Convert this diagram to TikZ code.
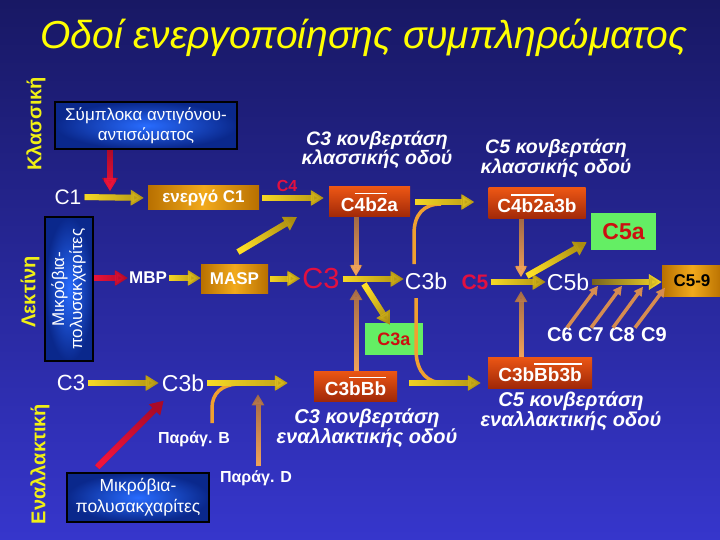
\documentclass[tikz,border=0pt]{standalone}
\usepackage{fontspec}
\usepackage{graphicx}
\setmainfont{Liberation Sans}
\usetikzlibrary{arrows.meta,calc,fadings}
\definecolor{bgtop}{RGB}{24,24,100}
\definecolor{bgbot}{RGB}{54,54,204}
\definecolor{ttlyel}{RGB}{255,255,0}
\definecolor{sideyel}{RGB}{240,240,20}
\definecolor{ylight}{RGB}{252,222,40}
\definecolor{ydark}{RGB}{170,140,16}
\definecolor{olive}{RGB}{110,90,30}
\definecolor{blight}{RGB}{244,166,90}
\definecolor{bdark}{RGB}{160,104,70}
\definecolor{bbrown}{RGB}{214,140,80}
\definecolor{rlight}{RGB}{240,20,60}
\definecolor{rdark}{RGB}{170,10,40}
\definecolor{ocur}{RGB}{240,160,48}
\definecolor{crimson}{RGB}{226,16,64}
\definecolor{boxred}{RGB}{204,16,16}
\definecolor{grn}{RGB}{100,238,100}
\definecolor{bin}{RGB}{40,108,255}
\definecolor{bout}{RGB}{10,40,140}
\definecolor{gdark}{RGB}{184,112,0}
\definecolor{glight}{RGB}{242,170,28}
\definecolor{rtop}{RGB}{236,86,20}
\definecolor{rbot}{RGB}{160,40,8}
\tikzfading[name=fadeR, left color=transparent!0, right color=transparent!100]
\newcommand\ovl[1]{\leavevmode\vbox{\hrule height 1.6pt\kern 3pt\hbox{#1}}}
\newcommand\fsz[2]{\fontsize{#1}{#2}\selectfont}
\tikzset{
  wtxt/.style={text=white, inner sep=1pt},
  redtxt/.style={text=crimson, inner sep=1pt},
  sidelbl/.style={rotate=90, text=sideyel, font=\fsz{20}{22}\bfseries, inner sep=0pt},
  bluebox/.style={draw=black, line width=1.5pt, inner color=bin, outer color=bout,
    text=white, align=center, inner sep=0pt, font=\fsz{17}{20}},
  goldbox/.style={left color=gdark, right color=gdark, middle color=glight,
    text=white, inner sep=0pt, font=\fsz{17}{20}\bfseries},
  redbox/.style={top color=rtop, bottom color=rbot,
    text=white, inner sep=0pt, font=\fsz{19}{22}\bfseries},
  grnbox/.style={fill=grn, text=boxred, inner sep=0pt},
  convtxt/.style={text=white, align=center, inner sep=0pt},
  yarrow/.style={draw=ydark, line width=6pt, -{Triangle[length=13pt,width=15pt]},
    postaction={draw=ylight, path fading=fadeR, fading angle=#1}},
  yarrow/.default=0,
  rarrow/.style={draw=rdark, line width=6pt, -{Triangle[length=13pt,width=15pt]},
    postaction={draw=rlight, path fading=fadeR, fading angle=#1}},
  rarrow/.default=0,
  barrow/.style={draw=bdark, line width=5pt, -{Triangle[length=11pt,width=12pt]},
    postaction={draw=blight, path fading=fadeR, fading angle=90}},
  carrow/.style={draw=bbrown, line width=3.5pt, -{Triangle[length=9pt,width=9pt]}},
  ocurve/.style={draw=ocur, line width=3.5pt},
}
\begin{document}
\begin{tikzpicture}[x=1pt,y=-1pt]
\useasboundingbox (0,0) rectangle (720,540);
\shade[top color=bgtop, bottom color=bgbot] (0,0) rectangle (720,540);

% title and side labels
\node[text=ttlyel, font=\fsz{39}{42}\itshape, inner sep=0pt] (title) at (364,38) {Οδοί ενεργοποίησης συμπληρώματος};
\node[sidelbl] (lblK) at (36,124) {Κλασσική};
\node[sidelbl] (lblL) at (30,292) {Λεκτίνη};
\node[sidelbl] (lblE) at (40,464) {Εναλλακτική};

% classical pathway
\node[bluebox, minimum width=182pt, minimum height=47pt] (sym) at (146,125.5) {Σύμπλοκα αντιγόνου-\\αντισώματος};
\node[wtxt, font=\fsz{21}{24}] (c1) at (68,197) {C1};
\node[goldbox, minimum width=111pt, minimum height=24pt] (enC1) at (203.5,198) {ενεργό C1};
\node[redtxt, font=\fsz{16}{18}\bfseries] (c4) at (287,186) {C4};
\node[redbox, minimum width=81pt, minimum height=30pt] (c4b2a) at (369.5,202) {C\ovl{4b2}a};
\node[redbox, minimum width=97pt, minimum height=31pt] (c4b2a3b) at (537,203.5) {C\ovl{4b2a}3b};
\node[convtxt, font=\fsz{19.5}{18}\bfseries\itshape] (conv3k) at (377,150) {C3 κονβερτάση\\κλασσικής οδού};
\node[convtxt, font=\fsz{19.5}{18.5}\bfseries\itshape] (conv5k) at (556,158.5) {C5 κονβερτάση\\κλασσικής οδού};
\node[grnbox, minimum width=65pt, minimum height=37pt, font=\fsz{23}{26}\bfseries] (c5a) at (623.5,231.5) {C5a};

% lectin pathway
\node[bluebox, minimum width=48pt, minimum height=144pt] (lect) at (69,289) {\rotatebox{90}{\begin{tabular}{@{}c@{}}Μικρόβια-\\[-2pt]πολυσακχαρίτες\end{tabular}}};
\node[wtxt, font=\fsz{17}{20}\bfseries] (mbp) at (148,278) {MBP};
\node[goldbox, minimum width=67pt, minimum height=29pt] (masp) at (234.5,278.5) {MASP};
\node[redtxt, font=\fsz{29}{32}] (c3r) at (321,279) {C3};
\node[wtxt, font=\fsz{23}{26}] (c3b) at (426,281) {C3b};
\node[redtxt, font=\fsz{21}{24}\bfseries] (c5r) at (475,282) {C5};
\node[wtxt, font=\fsz{23}{26}] (c5b) at (568,282) {C5b};
\node[goldbox, minimum width=60pt, minimum height=31pt, text=black] (c59) at (692,280.5) {C5-9};
\node[grnbox, minimum width=58pt, minimum height=32pt, font=\fsz{18}{20}\bfseries] (c3a) at (394,339) {C3a};
\node[wtxt, font=\fsz{20}{22}\bfseries] (c6) at (560,335) {C6};
\node[wtxt, font=\fsz{20}{22}\bfseries] (c7) at (591,335) {C7};
\node[wtxt, font=\fsz{20}{22}\bfseries] (c8) at (622,335) {C8};
\node[wtxt, font=\fsz{20}{22}\bfseries] (c9) at (654,335) {C9};

% alternative pathway
\node[redbox, minimum width=83pt, minimum height=30pt] (c3bbb) at (355.5,386) {C3\ovl{bBb}};
\node[redbox, minimum width=104pt, minimum height=31pt] (c3bbb3b) at (540,372.5) {C3b\ovl{Bb3b}};
\node[convtxt, font=\fsz{20}{20}\bfseries\itshape] (conv3e) at (367,428) {C3 κονβερτάση\\εναλλακτικής οδού};
\node[convtxt, font=\fsz{20}{18.5}\bfseries\itshape] (conv5e) at (571,411) {C5 κονβερτάση\\εναλλακτικής οδού};
\node[wtxt, font=\fsz{22}{24}] (c3A) at (71,383) {C3};
\node[wtxt, font=\fsz{23}{26}] (c3bA) at (183,383) {C3b};
\node[wtxt, font=\fsz{16}{18}\bfseries] (parB) at (194,439) {Παράγ. B};
\node[wtxt, font=\fsz{16}{18}\bfseries] (parD) at (256,478) {Παράγ. D};
\node[bluebox, minimum width=142pt, minimum height=49pt, font=\fsz{17.5}{21}] (mic2) at (138,497.5) {Μικρόβια-\\πολυσακχαρίτες};

% junctions and free ends
\coordinate (j3) at (356,280);
\coordinate (j5) at (521,282);
\coordinate (rA) at (110,191);
\coordinate (k1) at (414,264);
\coordinate (k2) at (441,204);
\coordinate (k3) at (416,298);
\coordinate (k4) at (444,383);
\coordinate (k6) at (212,423);
\coordinate (k7) at (237,384);
\coordinate (mh) at (297,217);
\coordinate (ml) at (238,252);

% curves
\draw[ocurve] (k1) -- (414,234) .. controls (414,214) and (424,204) .. (k2);
\draw[ocurve] (k3) -- (416,352) .. controls (417,373) and (428,383) .. (k4);
\draw[ocurve] (k6) -- (212,408) .. controls (212,393) and (222,385) .. (k7);

% vertical brown arrows
\draw[barrow] (c4b2a.south -| j3) -- ($(j3)+(0,-4)$);
\draw[barrow] (c3bbb.north -| j3) -- ($(j3)+(0,9)$);
\draw[barrow] (c4b2a3b.south -| j5) -- ($(j5)+(0,-5)$);
\draw[barrow] (c3bbb3b.north -| j5) -- ($(j5)+(0,9)$);
\draw[barrow] ($(parD.north)+(2,-3)$) -- ++(0,-72);

% red arrows
\draw[rarrow=90] (sym.south -| rA) -- (rA);
\draw[rarrow] (lect.east |- mbp.west) -- (mbp.west);
\draw[rarrow=45] ($(mic2.north west)+(31,-5)$) -- ($(c3bA.south west)+(3,8)$);

% yellow arrows
\draw[yarrow, shorten <=2pt, shorten >=4pt] (c1.east) -- (enC1.west);
\draw[yarrow, shorten <=3pt, shorten >=5pt] (enC1.east) -- (enC1.east -| c4b2a.west);
\draw[yarrow=30] (ml) -- (mh);
\draw[yarrow, shorten <=5pt, shorten >=14pt] (c4b2a.east) -- (c4b2a.east -| c4b2a3b.west);
\draw[yarrow, shorten <=1pt] (mbp.east) -- (mbp.east -| masp.west);
\draw[yarrow, shorten <=2pt, shorten >=1pt] (masp.east) -- (masp.east -| c3r.west);
\draw[yarrow, shorten <=2pt] (c3r.east) -- (c3r.east -| c3b.west);
\draw[yarrow=-58] ($(j3)+(8,4)$) -- ($(c3a.north)+(-4,2)$);
\draw[yarrow, shorten <=1pt] (c5r.east) -- (c5r.east -| c5b.west);
\draw[yarrow=30] ($(j5)+(6,-6)$) -- ($(c5a.south west)+(-4,-8)$);
\draw[draw=ylight, line width=6pt, -{Triangle[length=13pt,width=15pt]},
  postaction={draw=olive, path fading=fadeR}, shorten <=2pt] (c5b.east) -- (c5b.east -| c59.west);
\draw[yarrow, shorten <=12pt, shorten >=7pt] (c3bbb.east |- k4) -- (c3bbb3b.west |- k4);
\draw[yarrow, shorten <=2pt, shorten >=2pt] (c3A.east) -- (c3A.east -| c3bA.west);
\draw[yarrow, shorten <=2pt, shorten >=26pt] (c3bA.east) -- (c3bA.east -| c3bbb.west);

% C6-C9 arrows
\draw[carrow] ($(c6.north)+(7,1)$) -- ++(31,-42);
\draw[carrow] ($(c7.north)+(0,1)$) -- ++(31,-42);
\draw[carrow] ($(c8.north)+(-9,1)$) -- ++(30,-41);
\draw[carrow] ($(c9.north)+(-19,1)$) -- ++(30,-40);
\end{tikzpicture}
\end{document}
